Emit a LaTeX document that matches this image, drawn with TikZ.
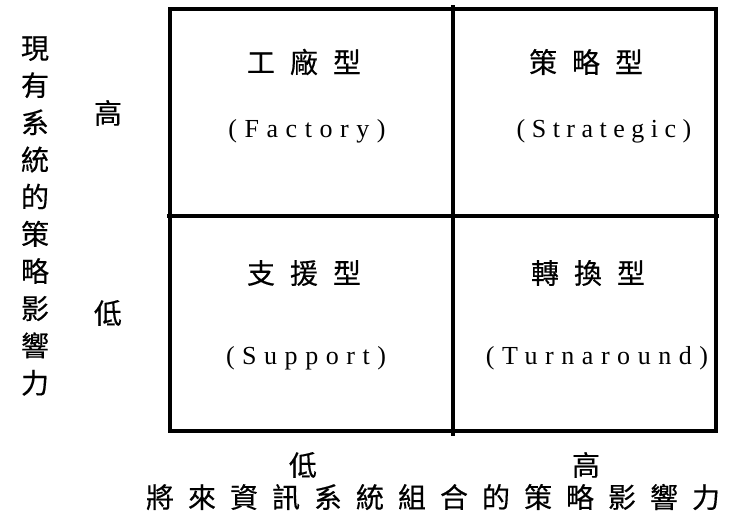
\documentclass[tikz,border=0pt]{standalone}
\usepackage{fontspec}
\newfontfamily\cjk[FakeBold=0.4]{Noto Sans CJK TC}
\newfontfamily\enserif[LetterSpace=29]{Liberation Serif}
\newfontfamily\enserifs[LetterSpace=25]{Liberation Serif}
\newcommand\gp{\hspace{15pt}}
\newcommand\gq{\hspace{14pt}}
\begin{document}
\begin{tikzpicture}[x=1pt,y=-1pt,
  gridline/.style={line width=3.5pt,black},
  head/.style={font=\cjk\fontsize{28}{28}\selectfont,inner sep=0pt,anchor=center},
  eng/.style={font=\enserif\fontsize{26}{26}\selectfont,inner sep=0pt,anchor=center},
  axis/.style={font=\cjk\fontsize{28}{28}\selectfont,inner sep=0pt,anchor=center}]
\useasboundingbox (0,0) rectangle (742,523);
% grid
\draw[gridline] (170,9) rectangle (716,431);
\draw[gridline] (453,5) -- (453,436);
\draw[gridline] (167,216) -- (719,216);
% cell headings
\node[head] (f1) at (304,62) {工\gp 廠\gp 型};
\node[head] (s1) at (586,62) {策\gp 略\gp 型};
\node[head] (p1) at (304,273) {支\gp 援\gp 型};
\node[head] (t1) at (588,273) {轉\gp 換\gp 型};
\node[eng] (f2) at (307,131) {(Factory)};
\node[eng,font=\enserifs\fontsize{26}{26}\selectfont] (s2) at (604,131) {(Strategic)};
\node[eng] (p2) at (306,358) {(Support)};
\node[eng] (t2) at (597,358) {(Turnaround)};
% left axis
\node[axis,align=center,font=\cjk\fontsize{28}{37.2}\selectfont] (ly) at (35,216)
  {現\\有\\系\\統\\的\\策\\略\\影\\響\\力};
\node[axis] (lh) at (108,113) {高};
\node[axis] (ll) at (108,313) {低};
% bottom axis
\node[axis] (bl) at (303,465) {低};
\node[axis] (bh) at (586,465) {高};
\node[axis] (bx) at (433,497) {將\gq 來\gq 資\gq 訊\gq 系\gq 統\gq 組\gq 合\gq 的\gq 策\gq 略\gq 影\gq 響\gq 力};
\end{tikzpicture}
\end{document}
